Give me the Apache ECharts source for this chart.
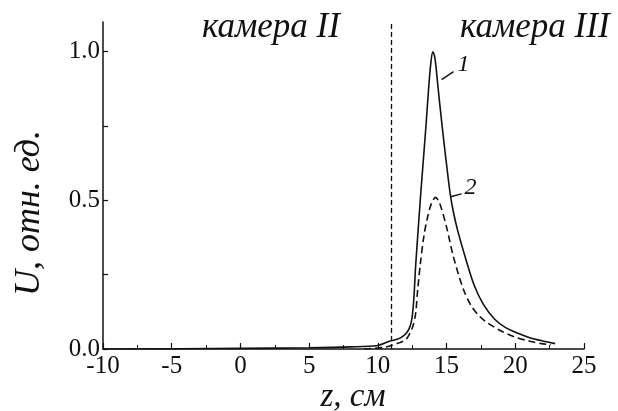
<!DOCTYPE html>
<html>
<head>
<meta charset="utf-8">
<script src="https://cdn.jsdelivr.net/npm/echarts@6/dist/echarts.min.js"></script>
<style>
  html, body { margin: 0; padding: 0; background: #fff; }
  #chart { width: 618px; height: 411px; }
</style>
</head>
<body>
<div id="chart"></div>
<script>
// curve 1 (solid)
const z1 = [-10, 0, 5, 8, 10, 10.8, 11.4, 11.76, 12.1, 12.36, 12.5, 12.62, 12.75, 12.9, 13.1, 13.3, 13.5, 13.7, 13.85, 14.0, 14.15, 14.4, 14.7, 15.0, 15.27, 15.5, 15.8, 16.35, 17.0, 17.68, 18.5, 19.3, 20.2, 21.0, 22.0, 22.9];
const u1 = [0, 0.002, 0.004, 0.007, 0.012, 0.025, 0.033, 0.041, 0.055, 0.078, 0.11, 0.17, 0.28, 0.38, 0.51, 0.63, 0.75, 0.88, 0.96, 1.0, 0.98, 0.87, 0.74, 0.62, 0.52, 0.46, 0.40, 0.31, 0.215, 0.15, 0.1, 0.072, 0.053, 0.039, 0.027, 0.018];
// curve 2 (dashed)
const z2 = [9, 10.4, 11, 11.5, 12.0, 12.3, 12.56, 12.75, 12.9, 13.1, 13.35, 13.6, 13.9, 14.2, 14.5, 15.0, 15.5, 16.23, 16.8, 17.4, 18.0, 19.0, 20.0, 21.0, 21.9, 22.6];
const u2 = [0, 0.005, 0.012, 0.02, 0.03, 0.05, 0.078, 0.12, 0.2, 0.29, 0.38, 0.44, 0.49, 0.51, 0.49, 0.41, 0.31, 0.2, 0.145, 0.11, 0.087, 0.06, 0.04, 0.027, 0.018, 0.015];

const yTicks = [0, 0.25, 0.5, 0.75, 1.0];
const yLabels = [0, 0.5, 1.0];
const boundaryZ = 11;

const serif = 'Liberation Serif';
const chart = echarts.init(document.getElementById('chart'));

chart.setOption({
  animation: false,
  backgroundColor: '#fff',
  grid: { left: 103, right: 34, top: 22, bottom: 62 },
  xAxis: {
    type: 'value', min: -10, max: 25, interval: 5,
    axisLine: { lineStyle: { color: '#111', width: 1.5 } },
    axisTick: { inside: true, length: 6, lineStyle: { color: '#111', width: 1.2 } },
    minorTick: { show: true, splitNumber: 2, length: 4, lineStyle: { color: '#111', width: 1 } },
    axisLabel: { color: '#111', fontFamily: serif, fontSize: 25, margin: 5 },
    splitLine: { show: false }
  },
  yAxis: {
    type: 'value', min: 0, max: 1.1,
    axisLine: { show: true, onZero: false, lineStyle: { color: '#111', width: 1.5 } },
    axisTick: { show: true, inside: true, length: 5, customValues: yTicks, lineStyle: { color: '#111', width: 1.2 } },
    axisLabel: { color: '#111', fontFamily: serif, fontSize: 25, margin: 3, customValues: yLabels,
      formatter: v => v.toFixed(1) },
    splitLine: { show: false }
  },
  graphic: [
    { type: 'text', left: 202, top: 10, style: { text: 'камера II', fontFamily: serif, fontStyle: 'italic', fontSize: 35, fill: '#111' } },
    { type: 'text', left: 460, top: 10, style: { text: 'камера III', fontFamily: serif, fontStyle: 'italic', fontSize: 35, fill: '#111' } },
    { type: 'text', x: 30, y: 213, rotation: Math.PI / 2,
      style: { text: 'U, отн. ед.', fontFamily: serif, fontStyle: 'italic', fontSize: 36, fill: '#111', align: 'center', verticalAlign: 'middle' } },
    { type: 'text', x: 353, y: 397,
      style: { text: 'z, см', fontFamily: serif, fontStyle: 'italic', fontSize: 33, fill: '#111', align: 'center', verticalAlign: 'middle' } }
  ],
  series: [
    {
      type: 'line', name: '1', data: z1.map((z, i) => [z, u1[i]]),
      smooth: 0.3, showSymbol: false,
      lineStyle: { color: '#111', width: 1.6 },
      markLine: {
        silent: true, symbol: 'none', label: { show: false },
        data: [
          [{ coord: [boundaryZ, 0], lineStyle: { type: [5, 3], width: 1.3, color: '#111' } },
           { coord: [boundaryZ, 1.1] }],
          [{ coord: [14.64, 0.906], lineStyle: { type: 'solid', width: 1.4, color: '#111' } },
           { coord: [15.51, 0.933] }],
          [{ coord: [15.29, 0.512], lineStyle: { type: 'solid', width: 1.4, color: '#111' } },
           { coord: [16.09, 0.522] }]
        ]
      },
      markPoint: {
        silent: true, symbol: 'circle', symbolSize: 0,
        label: { show: true, position: 'inside', color: '#111', fontFamily: serif, fontStyle: 'italic', fontSize: 24 },
        data: [
          { coord: [16.23, 0.956], value: '1', label: { formatter: '1' } },
          { coord: [16.74, 0.542], value: '2', label: { formatter: '2' } }
        ]
      }
    },
    {
      type: 'line', name: '2', data: z2.map((z, i) => [z, u2[i]]),
      smooth: 0.3, showSymbol: false,
      lineStyle: { color: '#111', width: 1.6, type: [7, 4] }
    }
  ]
});
</script>
</body>
</html>
